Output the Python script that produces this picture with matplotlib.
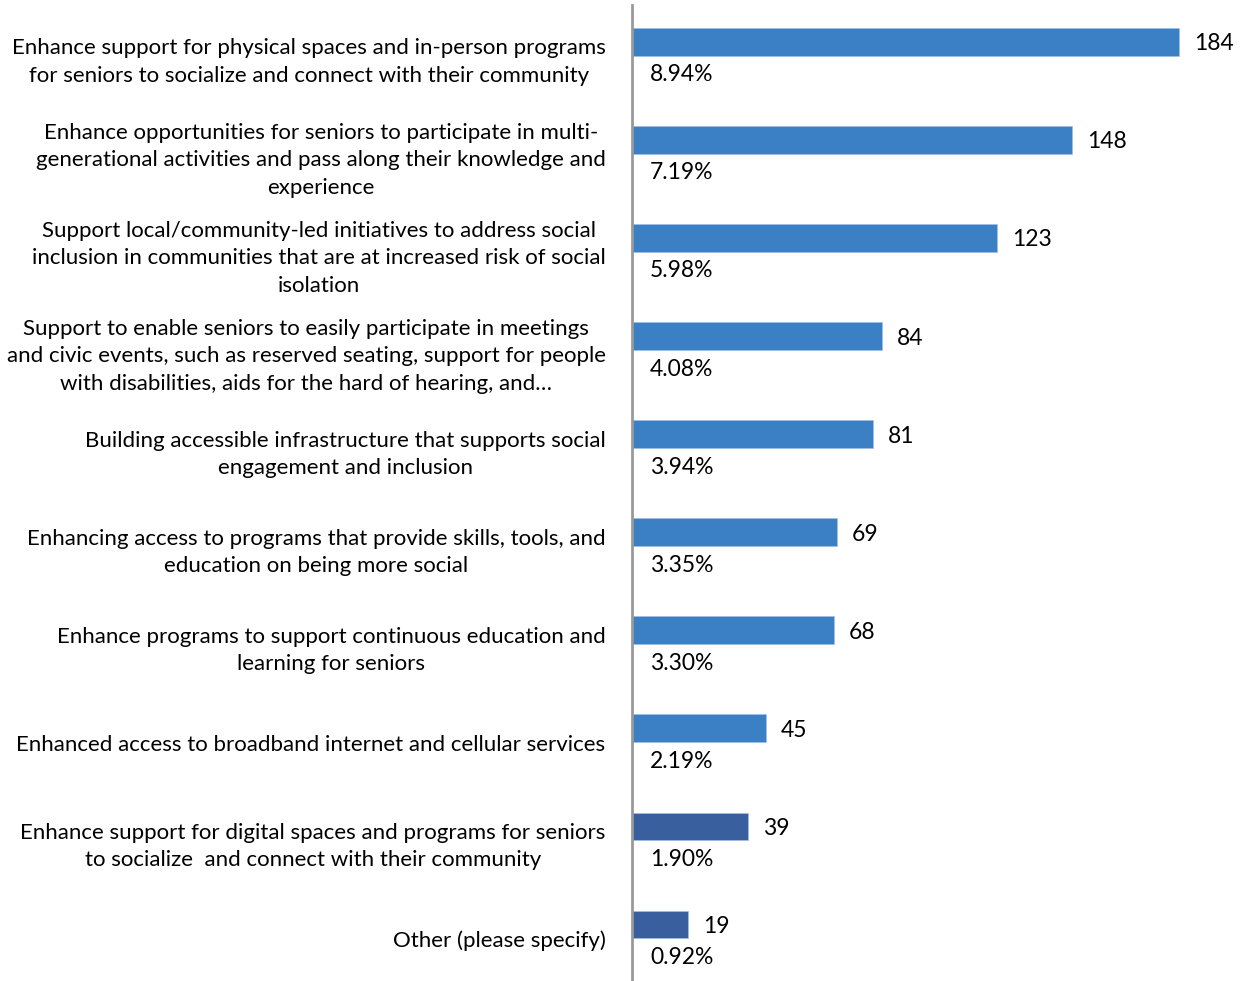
import matplotlib.pyplot as plt
from matplotlib.transforms import offset_copy

plt.rcParams['font.family'] = ['Lato', 'DejaVu Sans']

# data, top to bottom
labels = [
    "Enhance support for physical spaces and in-person programs\nfor seniors to socialize and connect with their community",
    "Enhance opportunities for seniors to participate in multi-\ngenerational activities and pass along their knowledge and\nexperience",
    "Support local/community-led initiatives to address social\ninclusion in communities that are at increased risk of social\nisolation",
    "Support to enable seniors to easily participate in meetings\nand civic events, such as reserved seating, support for people\nwith disabilities, aids for the hard of hearing, and\u2026",
    "Building accessible infrastructure that supports social\nengagement and inclusion",
    "Enhancing access to programs that provide skills, tools, and\neducation on being more social",
    "Enhance programs to support continuous education and\nlearning for seniors",
    "Enhanced access to broadband internet and cellular services",
    "Enhance support for digital spaces and programs for seniors\nto socialize  and connect with their community",
    "Other (please specify)",
]
counts = [184, 148, 123, 84, 81, 69, 68, 45, 39, 19]
percents = ["8.94%", "7.19%", "5.98%", "4.08%", "3.94%", "3.35%", "3.30%", "2.19%", "1.90%", "0.92%"]
colors = ["#3b80c5"] * 8 + ["#3a5f9f"] * 2

fig = plt.figure(figsize=(12.44, 9.81), dpi=100)
ax = fig.add_axes([0.508, 0.0, 0.492, 0.995])

pos = list(range(len(counts)))
bar_off = 0.148
ax.barh([p - bar_off for p in pos], counts, height=0.28, color=colors,
        edgecolor="#9fc0e6", linewidth=0.5)

val_tr = offset_copy(ax.transData, fig=fig, x=15, y=0, units='dots')
pct_tr = offset_copy(ax.transData, fig=fig, x=18, y=-2, units='dots')
for p, c, pc in zip(pos, counts, percents):
    ax.text(c, p - bar_off, str(c), transform=val_tr, ha='left', va='center_baseline', fontsize=16.5)
    ax.text(0, p + bar_off, pc, transform=pct_tr, ha='left', va='center_baseline', fontsize=16.5)

ax.set_xlim(0, 206)
ax.set_ylim(9.43, -0.525)
ax.set_yticks(pos)
ax.set_yticklabels(labels, fontsize=16)
for t in ax.get_yticklabels():
    t.set_multialignment('center')
    t.set_linespacing(1.48)
ax.tick_params(axis='y', length=0, pad=19)
ax.set_xticks([])
for s in ['top', 'right', 'bottom']:
    ax.spines[s].set_visible(False)
ax.spines['left'].set_color('#999999')
ax.spines['left'].set_linewidth(2)

fig.savefig("out.png", dpi=100)
